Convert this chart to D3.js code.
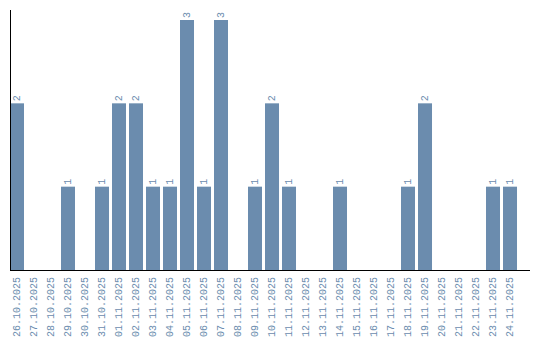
<!DOCTYPE html>
<html><head><meta charset="utf-8">
<script src="https://cdn.jsdelivr.net/npm/d3@7"></script>
<style>body{margin:0;background:#fff}</style>
</head><body>
<svg id="c" width="540" height="340"></svg>
<script>
const categories = ["26.10.2025","27.10.2025","28.10.2025","29.10.2025","30.10.2025","31.10.2025","01.11.2025","02.11.2025","03.11.2025","04.11.2025","05.11.2025","06.11.2025","07.11.2025","08.11.2025","09.11.2025","10.11.2025","11.11.2025","12.11.2025","13.11.2025","14.11.2025","15.11.2025","16.11.2025","17.11.2025","18.11.2025","19.11.2025","20.11.2025","21.11.2025","22.11.2025","23.11.2025","24.11.2025"];
const values = [2,0,0,1,0,1,2,2,1,1,3,1,3,0,1,2,1,0,0,1,0,0,0,1,2,0,0,0,1,1];

const svg = d3.select("#c");
const color = "#6b8cae";
const font = "Liberation Mono, monospace";
const x = d3.scaleBand().domain(categories).range([10,530]).paddingInner(3/17).paddingOuter(0.382).align(0);
const y = d3.scaleLinear().domain([0,3]).range([270,20]);

svg.selectAll("rect").data(values).join("rect")
  .attr("x",(d,i)=>x(categories[i]))
  .attr("y",d=>y(d))
  .attr("width",x.bandwidth())
  .attr("height",d=>y(0)-y(d))
  .attr("fill",color);

values.forEach((d,i)=>{
  if(d<=0) return;
  const cx = x(categories[i]) + x.bandwidth()/2;
  svg.append("text")
    .attr("transform",`translate(${cx+3},${y(d)-2}) rotate(-90)`)
    .attr("font-family",font)
    .attr("font-size",10)
    .attr("fill",color)
    .text(d);
});

const xa = d3.axisBottom(x).tickSize(0).tickPadding(0);
const gx = svg.append("g").attr("transform","translate(0,270)").call(xa);
gx.select(".domain").attr("stroke","#000").attr("d","M10,0.5H530");
gx.selectAll("text")
  .attr("font-family",font)
  .attr("font-size",10)
  .attr("fill",color)
  .attr("text-anchor","end")
  .attr("dy",null)
  .attr("transform","translate(3,7) rotate(-90)")
  .attr("x",0).attr("y",0);

svg.append("line").attr("x1",10.5).attr("x2",10.5).attr("y1",10).attr("y2",270).attr("stroke","#000");
</script>
</body></html>
